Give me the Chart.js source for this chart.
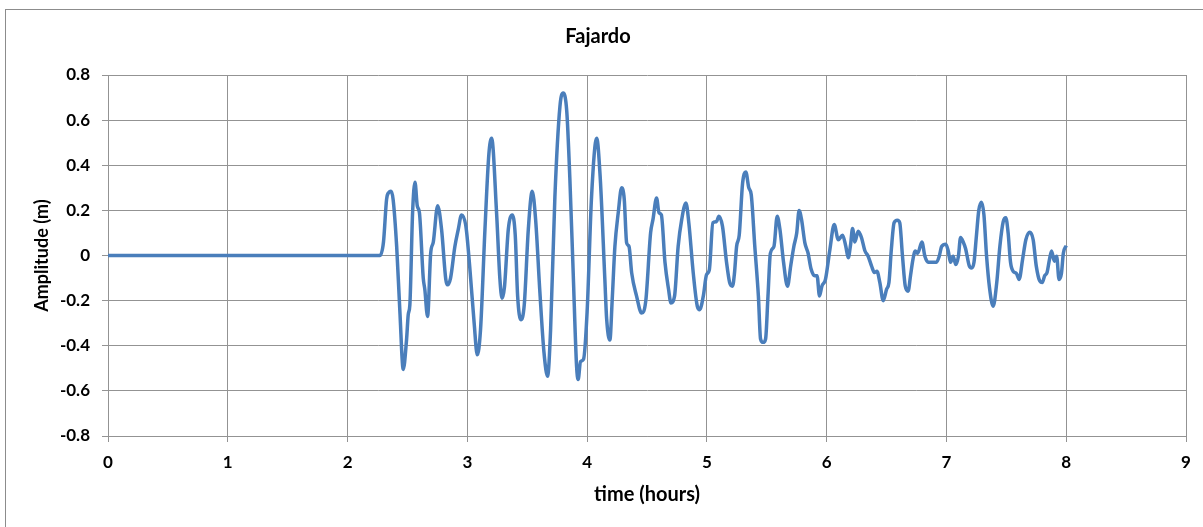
<!DOCTYPE html>
<html>
<head>
<meta charset="utf-8">
<title>Fajardo</title>
<script src="https://cdn.jsdelivr.net/npm/chart.js@4/dist/chart.umd.min.js"></script>
<style>
    html, body { margin: 0; padding: 0; background: #fff; }
    #box { width: 1203px; height: 527px; }
</style>
</head>
<body>
<div id="box"><canvas id="waveChart"></canvas></div>
<script>

// time in hours, amplitude in metres
const hours = [
    0, 2.27, 2.30, 2.326, 2.345, 2.362, 2.38, 2.41, 2.437, 2.465, 2.493, 2.507, 2.52, 2.543, 2.563, 2.582, 2.60,
    2.632, 2.645, 2.668, 2.694, 2.716, 2.752, 2.785, 2.82, 2.834, 2.86, 2.896, 2.924, 2.952, 2.988,
    3.02, 3.057, 3.083, 3.11, 3.147, 3.18, 3.203, 3.244, 3.272, 3.29, 3.31, 3.342, 3.375, 3.40, 3.42, 3.447,
    3.475, 3.509, 3.542, 3.57, 3.606, 3.64, 3.67, 3.695, 3.731, 3.773, 3.80, 3.83, 3.856, 3.884, 3.912, 3.925,
    3.945, 3.97, 4.0, 4.037, 4.08, 4.11, 4.148, 4.163, 4.19, 4.21, 4.232, 4.26, 4.288, 4.31, 4.33, 4.35,
    4.372, 4.413, 4.455, 4.49, 4.53, 4.55, 4.58, 4.60, 4.62, 4.65, 4.68, 4.70, 4.73, 4.76, 4.79, 4.825,
    4.85, 4.886, 4.92, 4.94, 4.97, 4.997, 5.02, 5.05, 5.08, 5.10, 5.13, 5.164, 5.19, 5.214, 5.23, 5.248,
    5.27, 5.298, 5.325, 5.35, 5.37, 5.40, 5.43, 5.448, 5.47, 5.49, 5.51, 5.53, 5.56, 5.587, 5.61, 5.64,
    5.673, 5.70, 5.726, 5.75, 5.77, 5.79, 5.818, 5.845, 5.87, 5.90, 5.92, 5.94, 5.96, 5.99, 6.027, 6.063,
    6.097, 6.133, 6.16, 6.18, 6.20, 6.216, 6.235, 6.263, 6.29, 6.32, 6.346, 6.375, 6.398, 6.42, 6.444, 6.472,
    6.50, 6.52, 6.54, 6.563, 6.59, 6.61, 6.633, 6.656, 6.68, 6.70, 6.72, 6.74, 6.76, 6.795, 6.82, 6.848,
    6.884, 6.917, 6.94, 6.96, 6.995, 7.015, 7.034, 7.056, 7.078, 7.10, 7.118, 7.14, 7.16, 7.19, 7.21, 7.23,
    7.25, 7.27, 7.293, 7.313, 7.335, 7.36, 7.39, 7.42, 7.446, 7.474, 7.496, 7.515, 7.535, 7.557, 7.585, 7.607,
    7.635, 7.663, 7.696, 7.724, 7.75, 7.78, 7.80, 7.82, 7.84, 7.86, 7.878, 7.90, 7.92, 7.94, 7.96, 7.976, 8.0
];

const amplitude = [
    0, 0, 0.06, 0.25, 0.28, 0.285, 0.25, 0.04, -0.25, -0.505, -0.37, -0.26, -0.22, 0.19, 0.325, 0.22, 0.19,
    -0.10, -0.15, -0.27, 0.01, 0.06, 0.22, 0.115, -0.105, -0.13, -0.10, 0.04, 0.115, 0.18, 0.13,
    -0.05, -0.30, -0.44, -0.33, 0.115, 0.45, 0.52, 0.19, -0.105, -0.19, -0.14, 0.115, 0.18, 0.09, -0.18, -0.285,
    -0.22, 0.115, 0.285, 0.16, -0.165, -0.43, -0.535, -0.33, 0.26, 0.66, 0.72, 0.64, 0.34, -0.08, -0.49, -0.55,
    -0.47, -0.46, -0.25, 0.26, 0.52, 0.34, -0.105, -0.28, -0.375, -0.19, 0.04, 0.19, 0.30, 0.25, 0.056, 0.04,
    -0.077, -0.18, -0.255, -0.20, 0.10, 0.16, 0.255, 0.19, 0.18, -0.03, -0.15, -0.21, -0.18, 0.04, 0.16, 0.233,
    0.14, -0.077, -0.225, -0.24, -0.18, -0.085, -0.065, 0.145, 0.15, 0.174, 0.13, -0.03, -0.12, -0.136, -0.08, 0.04,
    0.09, 0.32, 0.37, 0.30, 0.27, 0.04, -0.18, -0.37, -0.385, -0.37, -0.18, 0.01, 0.04, 0.174, 0.115, -0.03,
    -0.136, -0.045, 0.04, 0.10, 0.20, 0.16, 0.056, 0.01, -0.06, -0.09, -0.09, -0.18, -0.136, -0.106, 0.027, 0.137,
    0.07, 0.09, 0.04, -0.01, 0.05, 0.12, 0.06, 0.107, 0.08, 0.02, -0.003, -0.047, -0.075, -0.07, -0.12, -0.20,
    -0.15, -0.12, 0.027, 0.145, 0.156, 0.145, -0.003, -0.135, -0.158, -0.09, -0.018, 0.02, 0.01, 0.06, -0.003, -0.03,
    -0.03, -0.03, -0.003, 0.04, 0.05, 0.02, -0.03, -0.003, -0.04, -0.003, 0.08, 0.06, 0.03, -0.045, -0.055, -0.03,
    0.086, 0.20, 0.236, 0.18, -0.003, -0.145, -0.225, -0.12, 0.04, 0.15, 0.167, 0.10, -0.03, -0.07, -0.08, -0.106,
    -0.02, 0.07, 0.103, 0.07, -0.047, -0.114, -0.12, -0.09, -0.075, -0.018, 0.02, -0.025, -0.003, -0.106, -0.08, 0.01, 0.044
];

const xTicks = [0, 1, 2, 3, 4, 5, 6, 7, 8, 9];
const yTicks = [-0.8, -0.6, -0.4, -0.2, 0, 0.2, 0.4, 0.6, 0.8];

const fontName = "Lato, 'Open Sans', sans-serif";
const gridColor = "#939393";

// outer frame of the chart (like the excel chart border)
const framePlugin = {
    id: "frame",
    beforeDraw(chart) {
        const ctx = chart.ctx;
        ctx.save();
        ctx.fillStyle = "#fff";
        ctx.fillRect(0, 0, chart.width, chart.height);
        ctx.strokeStyle = "#8c8c8c";
        ctx.lineWidth = 1;
        ctx.strokeRect(5.5, 9.5, chart.width + 20, chart.height + 20);
        ctx.restore();
    }
};

const points = hours.map((h, i) => ({ x: h, y: amplitude[i] }));

new Chart(document.getElementById("waveChart"), {

    type: "line",

    data: {
        datasets: [{
            label: "Fajardo",
            data: points,
            borderColor: "#4a7ebb",
            borderWidth: 3.5,
            pointRadius: 0,
            cubicInterpolationMode: "monotone",
            fill: false
        }]
    },

    options: {
        responsive: true,
        maintainAspectRatio: false,
        animation: false,

        layout: {
            padding: { left: 10, top: 20, right: 17, bottom: 10 }
        },

        plugins: {
            legend: { display: false },
            tooltip: { enabled: false },
            title: {
                display: true,
                text: "Fajardo",
                color: "#000",
                font: { family: fontName, size: 20, weight: "bold" },
                padding: { top: 5, bottom: 26 }
            }
        },

        scales: {
            x: {
                type: "linear",
                min: 0,
                max: 9,
                afterBuildTicks: s => { s.ticks = xTicks.map(v => ({ value: v })); },
                afterFit: s => { s.height = 81; },
                ticks: {
                    color: "#000",
                    padding: 10,
                    font: { family: fontName, size: 17, weight: "bold" }
                },
                grid: { color: gridColor, tickLength: 6 },
                border: { color: gridColor },
                title: {
                    display: true,
                    text: "time (hours)",
                    color: "#000",
                    font: { family: fontName, size: 20, weight: "bold" },
                    padding: { top: 4, bottom: 10 }
                }
            },
            y: {
                min: -0.8,
                max: 0.8,
                afterBuildTicks: s => { s.ticks = yTicks.map(v => ({ value: v })); },
                afterFit: s => { s.width = 98; },
                ticks: {
                    color: "#000",
                    padding: 12,
                    font: { family: fontName, size: 17, weight: "bold" },
                    callback: v => String(Math.round(v * 10) / 10)
                },
                grid: { color: gridColor, tickLength: 6 },
                border: { color: gridColor },
                title: {
                    display: true,
                    text: "Amplitude (m)",
                    color: "#000",
                    font: { family: fontName, size: 18, weight: "bold" },
                    padding: { top: 21, bottom: 0 }
                }
            }
        }
    },

    plugins: [framePlugin]

});

</script>
</body>
</html>
